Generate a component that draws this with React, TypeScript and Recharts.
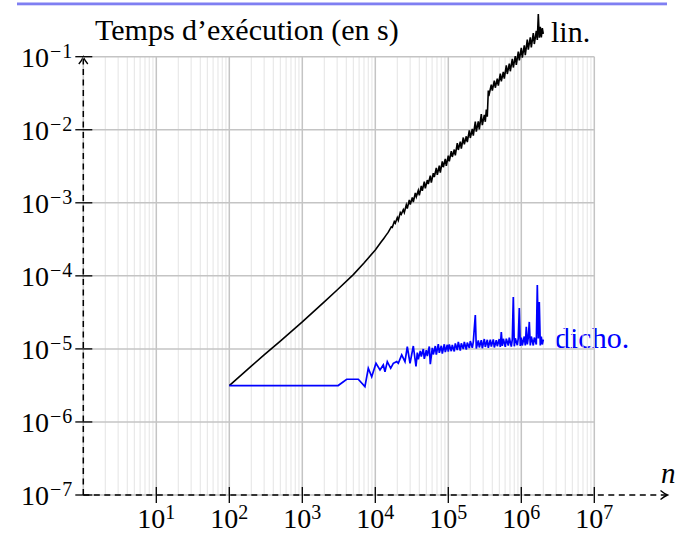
import React from 'react';
import { LineChart, Line, XAxis, YAxis, ReferenceLine } from 'recharts';

const FONT = '"Liberation Serif", "Times New Roman", serif';

const xTickValues = [10, 100, 1e3, 1e4, 1e5, 1e6, 1e7];
const yTickValues = [1e-7, 1e-6, 1e-5, 1e-4, 1e-3, 1e-2, 1e-1];
const xDecades = [1, 10, 100, 1e3, 1e4, 1e5, 1e6, 1e7];
const minorFactors = [2, 3, 4, 5, 6, 7, 8, 9];

// Temps d'exécution, recherche linéaire : [n, secondes]
const linPoints: [number, number][] = [
  [100, 3.15e-6], [200, 5.8e-6], [300, 8.3e-6], [500, 1.28e-5], [1000, 2.34e-5],
  [2000, 4.4e-5], [3000, 6.4e-5], [5000, 1.04e-4], [7000, 1.5e-4], [10000, 2.26e-4],
  [12000, 2.9e-4], [13000, 3.23e-4], [14000, 3.58e-4], [15000, 3.93e-4],
  [16570, 4.7e-4], [17100, 4.61e-4], [18210, 5.52e-4], [18790, 5.25e-4], [20020, 6.28e-4],
  [20660, 5.77e-4], [22000, 7.33e-4], [22710, 6.95e-4], [24190, 8.03e-4], [24960, 7.37e-4],
  [26590, 9.4e-4], [27440, 8.37e-4], [29230, 1.096e-3], [30160, 9.43e-4], [32130, 1.186e-3],
  [33160, 1.019e-3], [35320, 1.367e-3], [36450, 1.208e-3], [38820, 1.474e-3], [40070, 1.267e-3],
  [42680, 1.7e-3], [44040, 1.455e-3], [46910, 1.95e-3], [48420, 1.575e-3], [51570, 2.047e-3],
  [53220, 1.81e-3], [56690, 2.35e-3], [58500, 1.89e-3], [62310, 2.536e-3], [64310, 2.243e-3],
  [68490, 2.998e-3], [70690, 2.41e-3], [75290, 3.22e-3], [77700, 2.59e-3], [82760, 3.7e-3],
  [85410, 3.07e-3], [90970, 3.98e-3], [93890, 3.2e-3],
  [100000, 4.42e-3], [103200, 3.68e-3], [109900, 5.11e-3], [113400, 4.24e-3], [120800, 5.36e-3],
  [124700, 4.45e-3], [132800, 6.57e-3], [137100, 5.29e-3], [146000, 6.88e-3], [150700, 5.53e-3],
  [160500, 7.83e-3], [165700, 6.31e-3], [176400, 8.14e-3], [182100, 6.78e-3], [194000, 9.79e-3],
  [200200, 7.72e-3], [213200, 1.027e-2], [220000, 8.28e-3], [234400, 1.289e-2], [241900, 9.45e-3],
  [257600, 1.301e-2], [265900, 1.014e-2], [283200, 1.633e-2], [292300, 1.158e-2], [311300, 1.597e-2],
  [321300, 1.285e-2], [331600, 1.882e-2], [342200, 1.51e-2], [353200, 3.43e-2], [364500, 3.12e-2],
  [388200, 4.14e-2], [400700, 3.43e-2], [426800, 4.7e-2], [440400, 3.76e-2], [469100, 5.0e-2],
  [484200, 4.01e-2], [515700, 5.88e-2], [532200, 4.6e-2], [566900, 6.2e-2], [585000, 5.0e-2],
  [623100, 7.63e-2], [643100, 5.8e-2], [684900, 8.05e-2], [706900, 6.32e-2], [752900, 9.34e-2],
  [777000, 7.11e-2], [827600, 0.1016], [854100, 7.7e-2], [909700, 0.1174], [938900, 8.93e-2],
  [1000000, 0.132], [1032000, 9.7e-2], [1099000, 0.143], [1134000, 0.105], [1208000, 0.171],
  [1247000, 0.125], [1328000, 0.184], [1371000, 0.134], [1460000, 0.21], [1507000, 0.149],
  [1605000, 0.226], [1657000, 0.17], [1710000, 0.385], [1764000, 0.182], [1821000, 0.256],
  [1879000, 0.183], [1940000, 0.246], [2002000, 0.205],
];

// Temps d'exécution, recherche dichotomique : [n, secondes]
const dichoPoints: [number, number][] = [
  [100, 3.15e-6], [3100, 3.15e-6], [4060, 3.84e-6], [5850, 3.84e-6], [7210, 3.04e-6],
  [8020, 5.43e-6], [8930, 4.16e-6], [10220, 6.35e-6], [11600, 5.15e-6], [12870, 6.03e-6],
  [13570, 4.87e-6], [14600, 6.69e-6], [16250, 5.43e-6], [17640, 6.35e-6], [19640, 6.69e-6],
  [20660, 6.35e-6], [23000, 8.27e-6], [25500, 6.69e-6], [27440, 1.07e-5], [29900, 6.35e-6],
  [33160, 1.096e-5], [36100, 5.74e-6],
  [37620, 8.87e-6], [38820, 7.18e-6], [41350, 9.4e-6], [42680, 7.86e-6], [45460, 9.94e-6],
  [46910, 7.32e-6], [49970, 9.58e-6], [51570, 7.96e-6], [54930, 1.078e-5], [56690, 6.17e-6],
  [60380, 1.035e-5], [62310, 8.4e-6], [66370, 1.096e-5], [68490, 8.35e-6], [72950, 1.16e-5],
  [75290, 8.83e-6], [80190, 1.103e-5], [82760, 8.62e-6], [88150, 1.156e-5], [90970, 9.05e-6],
  [96900, 1.138e-5],
  [100000, 9.21e-6], [103200, 1.152e-5], [109900, 9.32e-6], [113400, 1.134e-5], [120800, 9.21e-6],
  [124700, 1.19e-5], [132800, 9.63e-6], [137100, 1.247e-5], [146000, 9.48e-6], [150700, 1.19e-5],
  [160500, 9.94e-6], [165700, 1.247e-5], [176400, 9.78e-6], [182100, 1.223e-5], [194000, 1.026e-5],
  [200200, 1.283e-5], [213200, 1.035e-5], [220000, 1.251e-5], [234400, 2.91e-5], [241900, 1.01e-5],
  [257600, 1.307e-5], [265900, 1.048e-5], [283200, 1.316e-5], [292300, 1.022e-5], [311300, 1.367e-5],
  [321300, 1.062e-5], [342200, 1.332e-5], [353200, 1.035e-5], [376200, 1.34e-5], [388200, 1.075e-5],
  [413500, 1.349e-5], [426800, 1.048e-5], [454600, 1.316e-5], [469100, 1.089e-5], [499700, 1.367e-5],
  [515700, 1.062e-5], [532200, 1.704e-5], [549300, 1.099e-5], [566900, 1.375e-5], [603800, 1.068e-5],
  [623100, 1.379e-5], [663700, 1.11e-5], [684900, 1.428e-5], [729500, 1.078e-5], [752900, 1.349e-5],
  [777000, 5.13e-5], [801900, 1.085e-5], [827600, 1.397e-5], [881500, 1.124e-5], [909700, 1.406e-5],
  [938900, 3.63e-5], [969000, 1.096e-5],
  [1000000, 1.432e-5], [1032000, 1.113e-5], [1099000, 1.479e-5], [1134000, 1.113e-5], [1171000, 2.01e-5],
  [1208000, 1.149e-5], [1247000, 1.432e-5], [1287000, 2.34e-5], [1328000, 1.113e-5], [1371000, 1.479e-5],
  [1460000, 1.113e-5], [1507000, 1.432e-5], [1605000, 1.149e-5], [1657000, 7.5e-5], [1710000, 1.388e-5],
  [1764000, 4.39e-5], [1821000, 1.113e-5], [1879000, 1.479e-5], [1940000, 1.149e-5], [2002000, 1.345e-5],
];

const linData = linPoints.map(([n, t]) => ({ n, t }));
const dichoData = dichoPoints.map(([n, t]) => ({ n, t }));
const xMinor = xDecades.slice(0, -1).flatMap((d) => minorFactors.map((f) => d * f));

const MAJOR = '#c4c4c4';
const MINOR = '#e4e4e4';

const exp = (v: number) => Math.round(Math.log10(v));

const YTick = (props: any) => {
  const { x, y, payload } = props;
  const e = exp(payload.value);
  return (
    <g>
      <line x1={x - 8} x2={x + 9} y1={y} y2={y} stroke="#000" strokeWidth={1.3} />
      <text x={x - 11} y={y + 10} textAnchor="end" fontFamily={FONT} fontSize={28} fill="#000">
        10
        <tspan fontSize={20} dy={-9} dx={1}>{'\u2212'}</tspan>
        <tspan fontSize={20} dx={1}>{`${-e}`}</tspan>
      </text>
    </g>
  );
};

const XTick = (props: any) => {
  const { x, y, payload } = props;
  const e = exp(payload.value);
  return (
    <g>
      <line x1={x} x2={x} y1={y - 8} y2={y + 8} stroke="#000" strokeWidth={1.3} />
      <text x={x} y={y + 33} textAnchor="middle" fontFamily={FONT} fontSize={28} fill="#000">
        10
        <tspan fontSize={20} dy={-9}>{`${e}`}</tspan>
      </text>
    </g>
  );
};

export default function App() {
  return (
    <div style={{ position: 'absolute', left: 0, top: 0, width: 692, height: 539, background: '#fff' }}>
      <LineChart width={692} height={539} margin={{ top: 12.87, right: 24.7, bottom: 0, left: 0 }}>
        <XAxis
          type="number"
          dataKey="n"
          scale="log"
          domain={[1, 1e8]}
          allowDataOverflow
          ticks={xTickValues}
          interval={0}
          tick={(p: any) => <XTick {...p} />}
          tickSize={0}
          tickMargin={0}
          axisLine={false}
          tickLine={false}
          height={44}
        />
        <YAxis
          type="number"
          scale="log"
          domain={[1e-7, Math.pow(10, -0.4)]}
          allowDataOverflow
          ticks={yTickValues}
          interval={0}
          tick={(p: any) => <YTick {...p} />}
          tickSize={0}
          tickMargin={0}
          axisLine={false}
          tickLine={false}
          width={83.3}
        />
        {xMinor.map((v) => (
          <ReferenceLine key={'mn' + v} segment={[{ x: v, y: 1e-7 }, { x: v, y: 1e-1 }]} stroke={MINOR} strokeWidth={1} />
        ))}
        {xDecades.map((v) => (
          <ReferenceLine key={'mj' + v} segment={[{ x: v, y: 1e-7 }, { x: v, y: 1e-1 }]} stroke={MAJOR} strokeWidth={1.5} />
        ))}
        {yTickValues.map((v) => (
          <ReferenceLine key={'hz' + v} segment={[{ x: 1, y: v }, { x: 1e7, y: v }]} stroke={MAJOR} strokeWidth={1.5} />
        ))}
        <Line data={linData} dataKey="t" type="linear" stroke="#000" strokeWidth={1.6} dot={false} isAnimationActive={false} />
        <Line data={dichoData} dataKey="t" type="linear" stroke="#0000ff" strokeWidth={1.7} dot={false} isAnimationActive={false} />
        <ReferenceLine segment={[{ x: 1, y: 1e-7 }, { x: 1e8, y: 1e-7 }]} stroke="#000" strokeWidth={1.5} strokeDasharray="6 4.5" />
        <ReferenceLine segment={[{ x: 1, y: 1e-7 }, { x: 1, y: 1e-1 }]} stroke="#000" strokeWidth={1.5} strokeDasharray="6 4.5" />
        <rect x={17} y={2.5} width={650} height={2.8} fill="#7f7ff2" />
        <path d="M660.5,490.5 Q664.5,493.8 667.5,495 Q664.5,496.2 660.5,499.5" fill="none" stroke="#000" strokeWidth={1.4} />
        <path d="M78.8,64 Q82.1,60 83.3,57 Q84.5,60 87.8,64" fill="none" stroke="#000" strokeWidth={1.4} />
        <text x={95} y={40} fontFamily={FONT} fontSize={30} fill="#000">Temps d’exécution (en s)</text>
        <text x={551} y={42} fontFamily={FONT} fontSize={30} fill="#000">lin.</text>
        <text x={555} y={348} fontFamily={FONT} fontSize={30} fill="#0000ff">dicho.</text>
        <text x={661} y={483} fontFamily={FONT} fontSize={29} fontStyle="italic" fill="#000">n</text>
      </LineChart>
    </div>
  );
}
